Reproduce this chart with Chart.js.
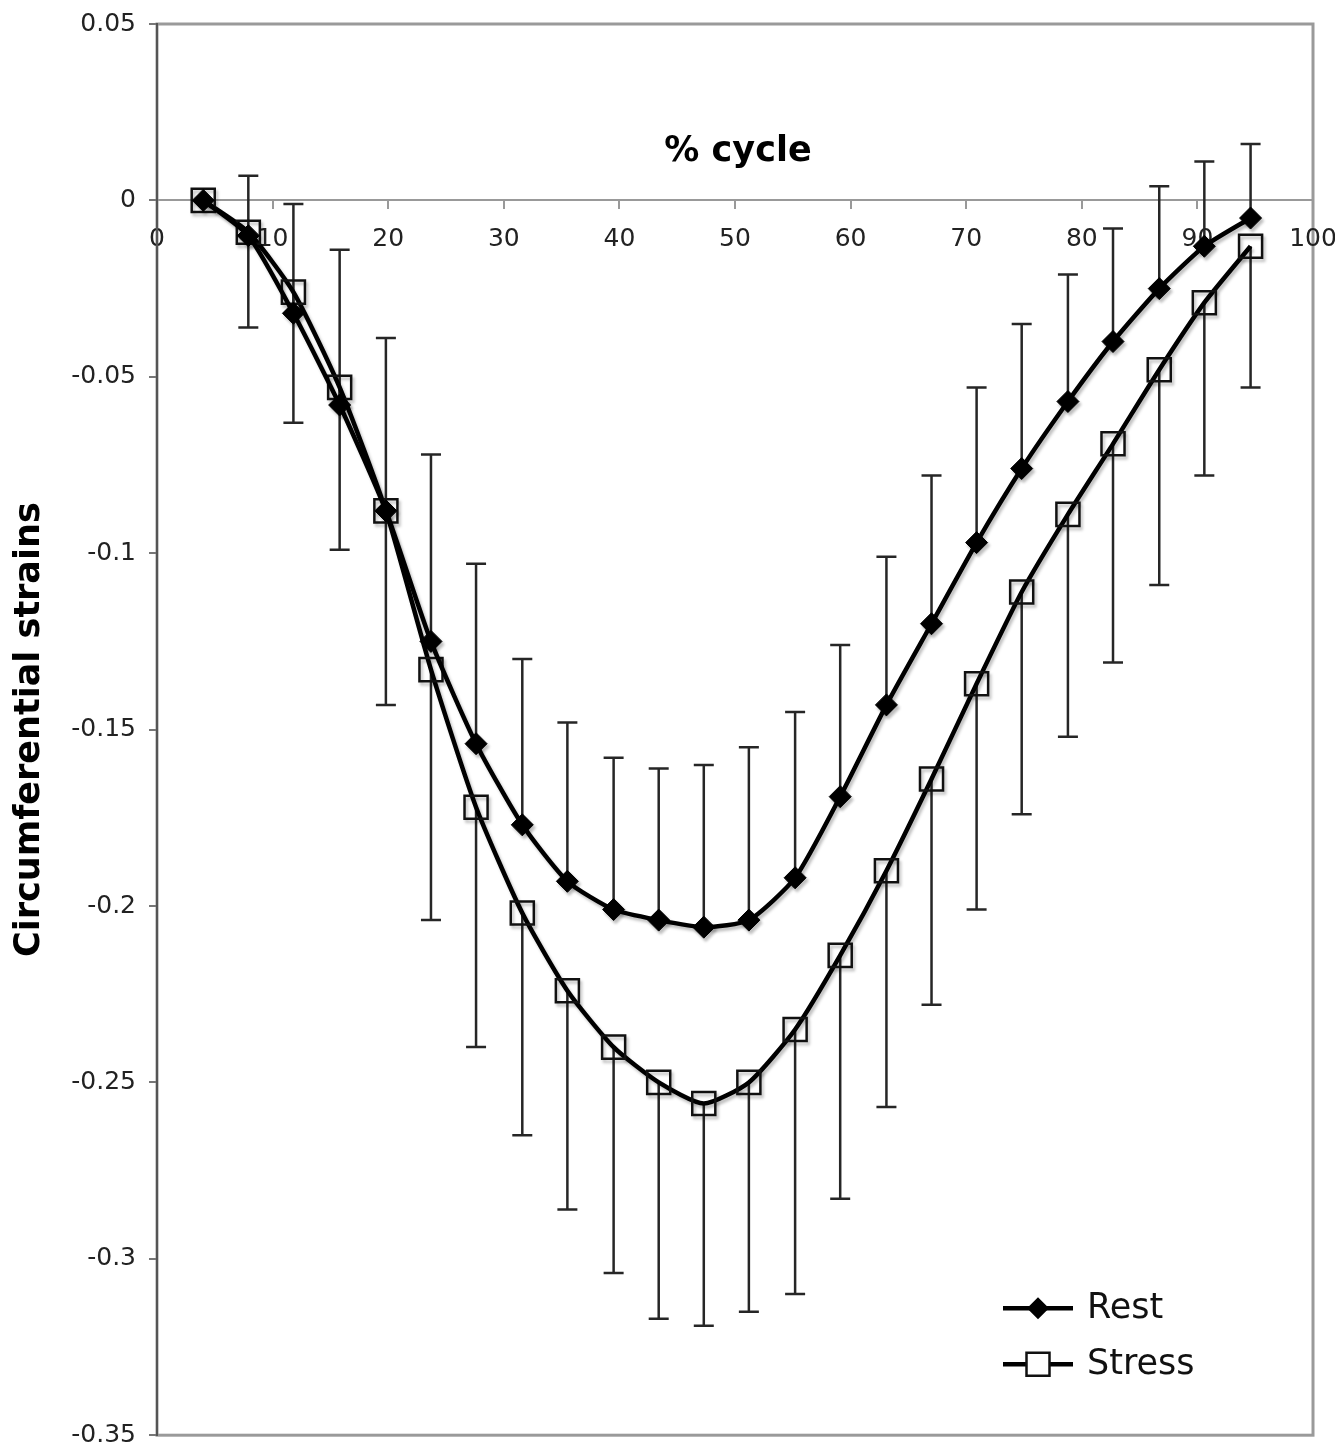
<!DOCTYPE html>
<html>
<head>
<meta charset="utf-8">
<script src="https://cdn.jsdelivr.net/npm/chart.js@4/dist/chart.umd.min.js"></script>
<style>
  body { margin: 0; background: #fff; }
  canvas { display: block; }
</style>
</head>
<body>
<canvas id="strain_chart" width="1335" height="1454"></canvas>
<script>
// % of cardiac cycle
let xValues = [4, 7.9, 11.8, 15.8, 19.8, 23.7, 27.6, 31.6, 35.5, 39.5, 43.4, 47.3,
               51.2, 55.2, 59.1, 63.1, 67, 70.9, 74.8, 78.8, 82.7, 86.7, 90.6, 94.6];

let rest = [0, -0.010, -0.032, -0.058, -0.088, -0.125, -0.154, -0.177, -0.193, -0.201, -0.204, -0.206,
            -0.204, -0.192, -0.169, -0.143, -0.120, -0.097, -0.076, -0.057, -0.040, -0.025, -0.013, -0.005];
let stress = [0, -0.009, -0.026, -0.053, -0.088, -0.133, -0.172, -0.202, -0.224, -0.240, -0.250, -0.256,
              -0.250, -0.235, -0.214, -0.190, -0.164, -0.137, -0.111, -0.089, -0.069, -0.048, -0.029, -0.013];

// rest shows the plus error only, stress the minus error only
let restErr = [0, 0.017, 0.031, 0.044, 0.049, 0.053, 0.051, 0.047, 0.045, 0.043, 0.043, 0.046,
               0.049, 0.047, 0.043, 0.042, 0.042, 0.044, 0.041, 0.036, 0.032, 0.029, 0.024, 0.021];
let stressErr = [0, 0.027, 0.037, 0.046, 0.055, 0.071, 0.068, 0.063, 0.062, 0.064, 0.067, 0.063,
                 0.065, 0.075, 0.069, 0.067, 0.064, 0.064, 0.063, 0.063, 0.062, 0.061, 0.049, 0.040];

let yTicks = [-0.35, -0.3, -0.25, -0.2, -0.15, -0.1, -0.05, 0, 0.05];
let yTickLabels = ['-0.35', '-0.3', '-0.25', '-0.2', '-0.15', '-0.1', '-0.05', '0', '0.05'];

const FONT = 'DejaVu Sans';

const plotFrame = {
    id: 'plotFrame',
    beforeDraw(chart) {
        const {ctx, chartArea: a} = chart;
        ctx.save();
        ctx.fillStyle = '#fff';
        ctx.fillRect(0, 0, chart.width, chart.height);
        ctx.strokeStyle = '#9a9a9a';
        ctx.lineWidth = 3;
        ctx.strokeRect(a.left, a.top, a.right - a.left, a.bottom - a.top);
        ctx.restore();
    }
};

const errorBars = {
    id: 'errorBars',
    beforeDatasetsDraw(chart) {
        const {ctx, scales: {x, y}} = chart;
        const cap = 10;
        ctx.save();
        ctx.strokeStyle = '#262626';
        ctx.lineWidth = 2.5;
        const bar = (px, v0, v1) => {
            const a = y.getPixelForValue(v0), b = y.getPixelForValue(v1);
            ctx.beginPath();
            ctx.moveTo(px, a); ctx.lineTo(px, b);
            ctx.moveTo(px - cap, b); ctx.lineTo(px + cap, b);
            ctx.stroke();
        };
        xValues.forEach((xv, i) => {
            const px = x.getPixelForValue(xv);
            if (restErr[i] > 0) bar(px, rest[i], rest[i] + restErr[i]);
            if (stressErr[i] > 0) bar(px, stress[i], stress[i] - stressErr[i]);
        });
        ctx.restore();
    }
};

const softShadow = {
    id: 'softShadow',
    beforeDatasetDraw(chart) {
        const ctx = chart.ctx;
        ctx.save();
        ctx.shadowColor = 'rgba(0,0,0,0.25)';
        ctx.shadowBlur = 3;
        ctx.shadowOffsetX = 2;
        ctx.shadowOffsetY = 3;
    },
    afterDatasetDraw(chart) {
        chart.ctx.restore();
    }
};

function drawMarker(ctx, style, cx, cy) {
    ctx.beginPath();
    if (style === 'rectRot') {
        ctx.moveTo(cx, cy - 11); ctx.lineTo(cx + 11, cy);
        ctx.lineTo(cx, cy + 11); ctx.lineTo(cx - 11, cy);
        ctx.closePath();
        ctx.fillStyle = '#000';
        ctx.fill();
    } else {
        ctx.rect(cx - 11.5, cy - 11.5, 23, 23);
        ctx.fillStyle = '#fff';
        ctx.fill();
        ctx.strokeStyle = '#111';
        ctx.lineWidth = 2.5;
        ctx.stroke();
    }
}

const extraText = {
    id: 'extraText',
    afterDraw(chart) {
        const {ctx, chartArea: a, scales: {y}} = chart;
        ctx.save();
        // axis title sits above the x axis line
        ctx.fillStyle = '#000';
        ctx.font = 'bold 35px "' + FONT + '"';
        ctx.textAlign = 'center';
        ctx.textBaseline = 'middle';
        ctx.fillText('% cycle', (a.left + a.right) / 2 + 3, y.getPixelForValue(0) - 48);

        // legend, bottom right inside the plot
        const rows = [a.bottom - 127, a.bottom - 71];
        const x0 = a.right - 310, x1 = a.right - 240;
        chart.data.datasets.forEach((ds, i) => {
            const cy = rows[i];
            ctx.strokeStyle = '#000';
            ctx.lineWidth = 4.5;
            ctx.beginPath();
            ctx.moveTo(x0, cy); ctx.lineTo(x1, cy);
            ctx.stroke();
            drawMarker(ctx, ds.pointStyle, (x0 + x1) / 2, cy);
            ctx.fillStyle = '#111';
            ctx.font = '35px "' + FONT + '"';
            ctx.textAlign = 'left';
            ctx.textBaseline = 'middle';
            ctx.fillText(ds.label, a.right - 226, cy + 1);
        });
        ctx.restore();
    }
};

let myChart = document.getElementById('strain_chart').getContext('2d');
let strain_chart = new Chart(myChart, {
    type: 'line',
    data: {
        datasets: [{
            label: 'Rest',
            data: xValues.map((x, i) => ({x: x, y: rest[i]})),
            borderColor: '#000',
            borderWidth: 4.5,
            tension: 0.2,
            fill: false,
            pointStyle: 'rectRot',
            pointRadius: 11,
            pointBackgroundColor: '#000',
            pointBorderColor: '#000',
            pointBorderWidth: 1
        }, {
            label: 'Stress',
            data: xValues.map((x, i) => ({x: x, y: stress[i]})),
            borderColor: '#000',
            borderWidth: 4.5,
            tension: 0.2,
            fill: false,
            pointStyle: 'rect',
            pointRadius: 16.3,
            pointBackgroundColor: 'rgba(255,255,255,0)',
            pointBorderColor: '#111',
            pointBorderWidth: 2.5
        }]
    },
    options: {
        responsive: false,
        animation: false,
        devicePixelRatio: 1,
        layout: { padding: { top: 24, right: 22, bottom: 13, left: 0 } },
        plugins: {
            legend: { display: false },
            tooltip: { enabled: false }
        },
        scales: {
            x: {
                type: 'linear',
                position: { y: 0 },
                min: 0,
                max: 100,
                afterFit: s => { s.paddingLeft = 0; s.paddingRight = 0; },
                ticks: {
                    stepSize: 10,
                    autoSkip: false,
                    maxRotation: 0,
                    padding: 16,
                    color: '#222',
                    font: { family: FONT, size: 25 }
                },
                grid: { drawOnChartArea: false, drawTicks: true, tickLength: 8, color: '#999', lineWidth: 2 },
                border: { color: '#999', width: 2 }
            },
            y: {
                type: 'linear',
                min: -0.35,
                max: 0.05,
                afterBuildTicks: s => { s.ticks = yTicks.map(v => ({ value: v })); },
                afterFit: s => { s.width = 157; s.paddingTop = 0; s.paddingBottom = 0; },
                ticks: {
                    callback: (v, i) => yTickLabels[i],
                    padding: 13,
                    color: '#222',
                    font: { family: FONT, size: 25, lineHeight: 1 }
                },
                grid: { drawOnChartArea: false, drawTicks: true, tickLength: 8, color: '#777', lineWidth: 2 },
                border: { color: '#555', width: 2 },
                title: {
                    display: true,
                    text: 'Circumferential strains',
                    color: '#000',
                    padding: { top: 9, bottom: 0 },
                    font: { family: FONT, size: 35, weight: 'bold' }
                }
            }
        }
    },
    plugins: [plotFrame, errorBars, softShadow, extraText]
});
</script>
</body>
</html>
